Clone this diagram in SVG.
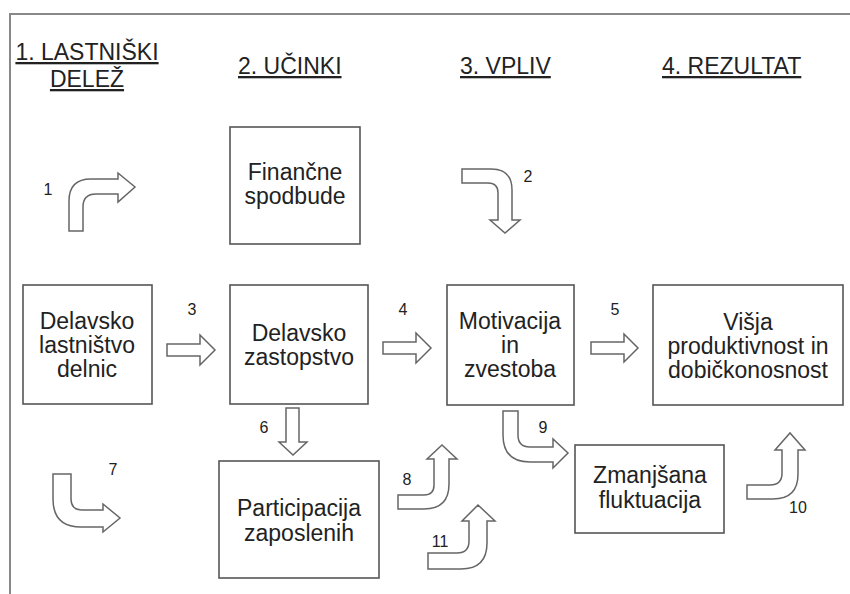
<svg xmlns="http://www.w3.org/2000/svg" width="850" height="594" viewBox="0 0 850 594">
<style>
text{font-family:"Liberation Sans",Arial,sans-serif;fill:#222}
.h{font-size:23px;text-decoration:underline}
.t{font-size:23px;text-anchor:middle}
.n{font-size:16px;text-anchor:middle}
.box{fill:#fff;stroke:#555;stroke-width:1.6}
.arr{fill:#fff;stroke:#666;stroke-width:1.5;stroke-linejoin:miter}
.frame{fill:none;stroke:#888;stroke-width:2}
</style>
<rect width="850" height="594" fill="#fff"/>
<path class="frame" d="M10,594 V14 H850"/>
<g id="headers">
<text class="h" x="87" y="60" text-anchor="middle">1. LASTNIŠKI</text>
<text class="h" x="87" y="87" text-anchor="middle">DELEŽ</text>
<text class="h" x="238" y="74">2. UČINKI</text>
<text class="h" x="460" y="74">3. VPLIV</text>
<text class="h" x="662" y="74">4. REZULTAT</text>
</g>
<g id="n-financne">
<rect class="box" x="230" y="127" width="130" height="117"/>
<text class="t" x="295" y="180">Finančne</text>
<text class="t" x="295" y="204">spodbude</text>
</g>
<g id="n-lastnistvo">
<rect class="box" x="23" y="285" width="129" height="119"/>
<text class="t" x="87" y="329">Delavsko</text>
<text class="t" x="87" y="353">lastništvo</text>
<text class="t" x="87" y="377">delnic</text>
</g>
<g id="n-zastopstvo">
<rect class="box" x="230" y="285" width="138" height="119"/>
<text class="t" x="299" y="341">Delavsko</text>
<text class="t" x="299" y="365">zastopstvo</text>
</g>
<g id="n-motivacija">
<rect class="box" x="447" y="285" width="127" height="120"/>
<text class="t" x="510" y="329">Motivacija</text>
<text class="t" x="510" y="353">in</text>
<text class="t" x="510" y="377">zvestoba</text>
</g>
<g id="n-visja">
<rect class="box" x="653" y="285" width="190" height="120"/>
<text class="t" x="748" y="330">Višja</text>
<text class="t" x="748" y="354">produktivnost in</text>
<text class="t" x="748" y="378">dobičkonosnost</text>
</g>
<g id="n-participacija">
<rect class="box" x="219" y="461" width="160" height="117"/>
<text class="t" x="299" y="516">Participacija</text>
<text class="t" x="299" y="541">zaposlenih</text>
</g>
<g id="n-zmanjsana">
<rect class="box" x="575" y="445" width="149" height="88"/>
<text class="t" x="650" y="483">Zmanjšana</text>
<text class="t" x="650" y="508">fluktuacija</text>
</g>
<g id="connectors">
<path class="arr" d="M69,231 V201 Q69,179 91,179 H118 V173 L135,187 L118,202 V194 H96 Q83,194 83,207 V231 Z"/>
<text class="n" x="48" y="195">1</text>
<path class="arr" d="M462,169 H491 Q512,169 512,190 V220 H520 L505,233 L490,220 H498 V193 Q498,183 488,183 H462 Z"/>
<text class="n" x="528" y="182">2</text>
<path class="arr" d="M167,344 H200 V335 L215,350 L200,365 V356 H167 Z"/>
<text class="n" x="192" y="315">3</text>
<path class="arr" d="M383,342 H416 V333 L431,348 L416,363 V354 H383 Z"/>
<text class="n" x="403" y="315">4</text>
<path class="arr" d="M591,342 H624 V334 L638,348 L624,362 V354 H591 Z"/>
<text class="n" x="615" y="315">5</text>
<path class="arr" d="M286,408 H299 V442 H307 L293,455 L279,442 H286 Z"/>
<text class="n" x="264" y="433">6</text>
<path class="arr" d="M53,474 H71 V499 Q71,510 82,510 H103 V504 L120,518 L103,532 V527 H81 Q53,527 53,499 Z"/>
<text class="n" x="113" y="475">7</text>
<path class="arr" d="M398,495 H424 Q434,495 434,485 V459 H427 L442,445 L457,459 H449 V484 Q449,509 424,509 H398 Z"/>
<text class="n" x="407" y="485">8</text>
<path class="arr" d="M503,411 H518 V435 Q518,447 530,447 H553 V439 L568,453 L553,468 V462 H530 Q503,462 503,435 Z"/>
<text class="n" x="543" y="433">9</text>
<path class="arr" d="M747,485 H770 Q782,485 782,473 V450 H775 L790,433 L805,450 H798 V474 Q798,499 773,499 H747 Z"/>
<text class="n" x="798" y="513">10</text>
<path class="arr" d="M428,553 H457 Q469,553 469,541 V521 H462 L478,505 L495,521 H487 V543 Q487,569 461,569 H428 Z"/>
<text class="n" x="440" y="547">11</text>
</g>
</svg>
